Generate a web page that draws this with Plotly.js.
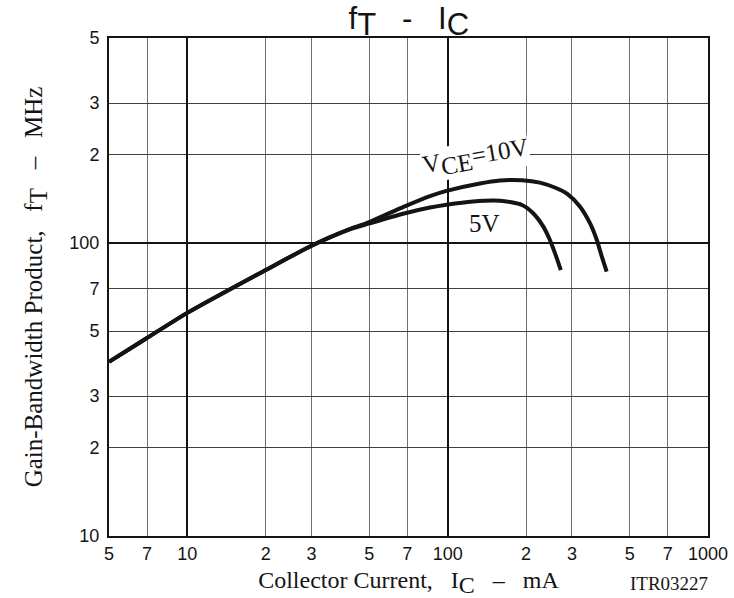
<!DOCTYPE html>
<html>
<head>
<meta charset="utf-8">
<script src="https://cdn.plot.ly/plotly-3.0.1.min.js"></script>
<style>
  html, body { margin: 0; padding: 0; background: #fff; }
  #chart { width: 734px; height: 598px; }
</style>
</head>
<body>
<div id="chart"></div>
<script>
// Collector current (mA) and gain-bandwidth product (MHz)
const ic10V = [5, 6.9, 10, 20, 30, 42, 50, 68, 85.5, 99, 133, 159, 193, 226, 262, 288, 322.5, 352, 374, 391, 408]
const ft10V = [39.3, 47.0, 57.7, 80.8, 97.8, 111.4, 117.8, 133, 144.5, 150.5, 159.5, 163.3, 163.5, 160.5, 153.6, 146.9, 132.9, 116.7, 102.3, 89.7, 79.8]

const ic5V = [5, 6.9, 10, 20, 30, 42, 50, 68, 85.5, 99, 125, 159, 193, 213, 233, 247, 258.5, 272]
const ft5V = [39.3, 47.0, 57.7, 80.8, 97.8, 111.2, 116.5, 126, 132, 135, 138.5, 139.3, 134.7, 126.2, 113.6, 102.3, 92.1, 80.8]

// axis ticks, labelled the way the datasheet does it
const xTickVals = [5, 7, 10, 20, 30, 50, 70, 100, 200, 300, 500, 700, 1000]
const xTickText = ["5", "7", "10", "2", "3", "5", "7", "100", "2", "3", "5", "7", "1000"]
const yTickVals = [10, 20, 30, 50, 70, 100, 200, 300, 500]
const yTickText = ["10", "2", "3", "5", "7", "100", "2", "3", "5"]
const xDecades = [10, 100]
const yDecades = [100]

const serif = "Liberation Serif, Times New Roman, serif"
const sans = "Liberation Sans, Arial, sans-serif"
const ink = "#141414"
const gap = "&nbsp;&nbsp;&nbsp;"

// full size subscript, like the datasheet lettering
function sub(text, size) {
    return "<sub><span style='font-size:" + size + "px'>" + text + "</span></sub>"
}

const traces = [
    {
        x: ic10V, y: ft10V,
        type: "scatter", mode: "lines",
        line: {color: ink, width: 4, shape: "spline", smoothing: 0.7},
        showlegend: false, hoverinfo: "skip"
    },
    {
        // lives on the overlay axes that carry the decade grid lines
        x: ic5V, y: ft5V,
        xaxis: "x2", yaxis: "y2",
        type: "scatter", mode: "lines",
        line: {color: ink, width: 4, shape: "spline", smoothing: 0.7},
        showlegend: false, hoverinfo: "skip"
    }
]

const xRange = [Math.log10(5), Math.log10(1000)]
const yRange = [Math.log10(10), Math.log10(500)]

const layout = {
    width: 734,
    height: 598,
    margin: {l: 109, r: 26, t: 38, b: 62},
    paper_bgcolor: "#fff",
    plot_bgcolor: "#fff",
    showlegend: false,
    title: {
        text: "f" + sub("T", 31) + gap + "-" + gap + "I" + sub("C", 31),
        font: {family: sans, size: 31, color: ink},
        x: 0.557, xanchor: "center",
        y: 0.988, yanchor: "top"
    },
    xaxis: {
        type: "log",
        range: xRange,
        tickvals: xTickVals,
        ticktext: xTickText,
        ticks: "",
        tickfont: {family: sans, size: 18, color: ink},
        showgrid: true,
        gridcolor: "#707070",
        gridwidth: 1,
        showline: true,
        linecolor: ink,
        linewidth: 2,
        mirror: true,
        zeroline: false,
        title: {
            text: "Collector Current," + gap + "I" + sub("C", 24) + gap + "–" + gap + "mA",
            font: {family: serif, size: 24, color: ink},
            standoff: 9
        }
    },
    yaxis: {
        type: "log",
        range: yRange,
        tickvals: yTickVals,
        ticktext: yTickText,
        ticks: "",
        ticklabelstandoff: 4,
        tickfont: {family: sans, size: 18, color: ink},
        showgrid: true,
        gridcolor: "#404040",
        gridwidth: 1,
        showline: true,
        linecolor: ink,
        linewidth: 2,
        mirror: true,
        zeroline: false,
        title: {
            text: "Gain-Bandwidth Product," + gap + "f" + sub("T", 25) + gap + "–" + gap + "MHz",
            font: {family: serif, size: 25, color: ink},
            standoff: 20
        }
    },
    xaxis2: {
        type: "log",
        range: xRange,
        overlaying: "x",
        anchor: "y2",
        tickvals: xDecades,
        showticklabels: false,
        ticks: "",
        showgrid: true,
        gridcolor: ink,
        gridwidth: 2,
        showline: false,
        zeroline: false
    },
    yaxis2: {
        type: "log",
        range: yRange,
        overlaying: "y",
        anchor: "x2",
        tickvals: yDecades,
        showticklabels: false,
        ticks: "",
        showgrid: true,
        gridcolor: ink,
        gridwidth: 2,
        showline: false,
        zeroline: false
    },
    annotations: [
        {
            xref: "paper", yref: "paper",
            x: 0.612, y: 0.76,
            yanchor: "middle",
            text: "V" + sub("CE", 25) + "=10V",
            textangle: -10,
            showarrow: false,
            bgcolor: "#fff",
            borderpad: 0,
            font: {family: serif, size: 25, color: ink}
        },
        {
            xref: "paper", yref: "paper",
            x: 0.627, y: 0.627,
            text: "5V",
            showarrow: false,
            font: {family: serif, size: 25, color: ink}
        },
        {
            xref: "paper", yref: "paper",
            x: 0.935, y: -0.095,
            xanchor: "center", yanchor: "middle",
            text: "ITR03227",
            showarrow: false,
            font: {family: serif, size: 19, color: ink}
        }
    ]
}

Plotly.newPlot("chart", traces, layout, {displayModeBar: false, staticPlot: true})
</script>
</body>
</html>
